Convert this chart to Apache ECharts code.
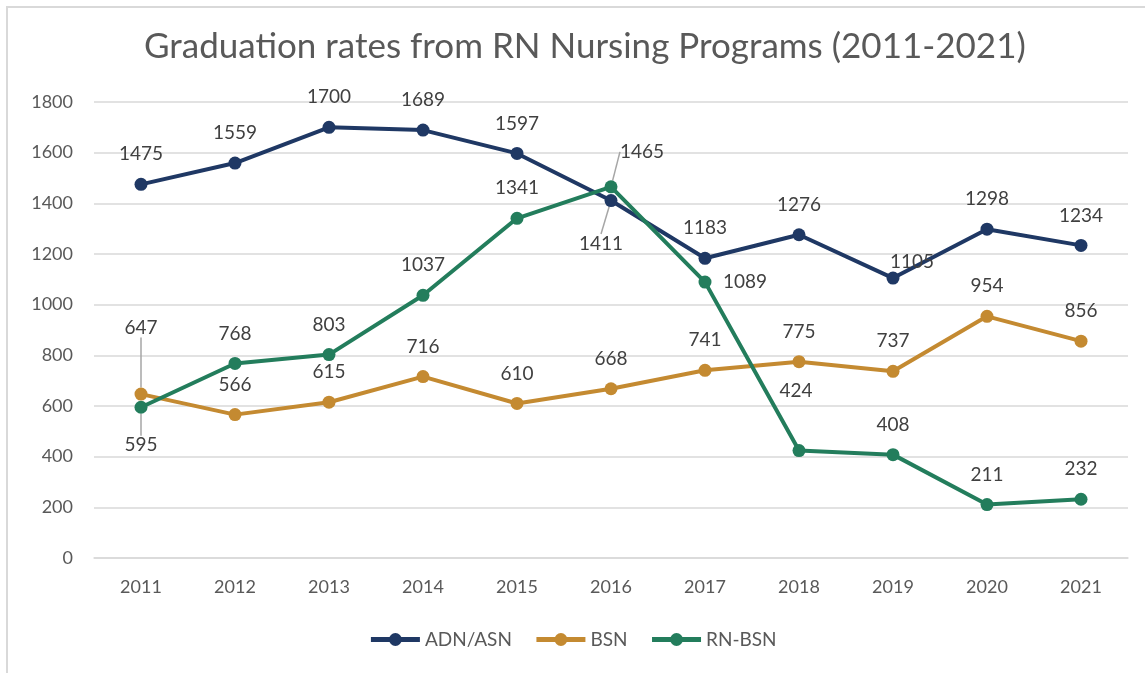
<!DOCTYPE html>
<html>
<head>
<meta charset="utf-8">
<script src="https://cdn.jsdelivr.net/npm/echarts@6/dist/echarts.min.js"></script>
<style>
  html, body { margin: 0; padding: 0; background: #fff; overflow: hidden; }
  #frame { position: absolute; left: 6px; top: 6px; width: 1150px; height: 680px; border: 2px solid #d9d9d9; box-sizing: border-box; }
  #chart { position: absolute; left: 0; top: 0; width: 1145px; height: 673px; }
</style>
</head>
<body>
<div id="frame"></div>
<div id="chart"></div>
<script>
const years = ["2011", "2012", "2013", "2014", "2015", "2016", "2017", "2018", "2019", "2020", "2021"];
const adnAsn = [1475, 1559, 1700, 1689, 1597, 1411, 1183, 1276, 1105, 1298, 1234];
const bsn = [647, 566, 615, 716, 610, 668, 741, 775, 737, 954, 856];
const rnBsn = [595, 768, 803, 1037, 1341, 1465, 1089, 424, 408, 211, 232];
const yTicks = [0, 200, 400, 600, 800, 1000, 1200, 1400, 1600, 1800];

const chartDom = document.getElementById("chart");
const myChart = echarts.init(chartDom);
const font = "Lato, 'Open Sans', sans-serif";
const textColor = "#595959";

// label tweaks per point: [dx, dy, leader line?] relative to default "top" placement
const adnMoves = { 5: [-10, 73, true], 8: [19, 14, false] };
const bsnMoves = { 0: [0, -36, true] };
const rnMoves = { 0: [0, 68, true], 5: [31, -5, true], 6: [40, 30, false], 7: [-3, -30, false] };

function makeSeries(name, values, color, moves) {
  return {
    name: name,
    type: "line",
    data: values.map((v, i) => ({
      value: v,
      labelLine: { show: !!(moves[i] && moves[i][2]) },
    })),
    symbol: "circle",
    symbolSize: 13,
    lineStyle: { width: 4, color: color },
    itemStyle: { color: color },
    label: {
      show: true,
      position: "top",
      distance: 14,
      color: "#404040",
      fontSize: 19,
      fontFamily: font,
    },
    labelLine: {
      show: false,
      lineStyle: { color: "#a6a6a6", width: 1.5 },
    },
    labelLayout: function (params) {
      const m = moves[params.dataIndex];
      if (!m) return {};
      return { dx: m[0], dy: m[1] };
    },
  };
}

const option = {
  animation: false,
  title: {
    text: "Graduation rates from RN Nursing Programs (2011-2021)",
    left: 139,
    top: 24,
    textStyle: { fontFamily: font, fontSize: 35, fontWeight: "normal", color: textColor },
  },
  legend: {
    bottom: 19,
    left: "center",
    itemWidth: 49,
    itemHeight: 16,
    itemGap: 22,
    lineStyle: { width: 5 },
    textStyle: { fontFamily: font, fontSize: 19, color: textColor },
    data: ["ADN/ASN", "BSN", "RN-BSN"],
  },
  grid: { left: 94, right: 17, top: 102, bottom: 115 },
  xAxis: {
    type: "category",
    data: years,
    axisLine: { lineStyle: { color: "#d9d9d9", width: 1.5 } },
    axisTick: { show: false },
    axisLabel: { fontFamily: font, fontSize: 18, color: textColor, margin: 20 },
  },
  yAxis: {
    type: "value",
    min: yTicks[0],
    max: yTicks[yTicks.length - 1],
    interval: 200,
    axisLine: { show: false },
    axisTick: { show: false },
    axisLabel: { fontFamily: font, fontSize: 18, color: textColor, margin: 21, formatter: (v) => String(v) },
    splitLine: { lineStyle: { color: "#d9d9d9", width: 1.5 } },
  },
  series: [
    makeSeries("ADN/ASN", adnAsn, "#1f3864", adnMoves),
    makeSeries("BSN", bsn, "#c48a31", bsnMoves),
    makeSeries("RN-BSN", rnBsn, "#237d5c", rnMoves),
  ],
};

option && myChart.setOption(option);
</script>
</body>
</html>
